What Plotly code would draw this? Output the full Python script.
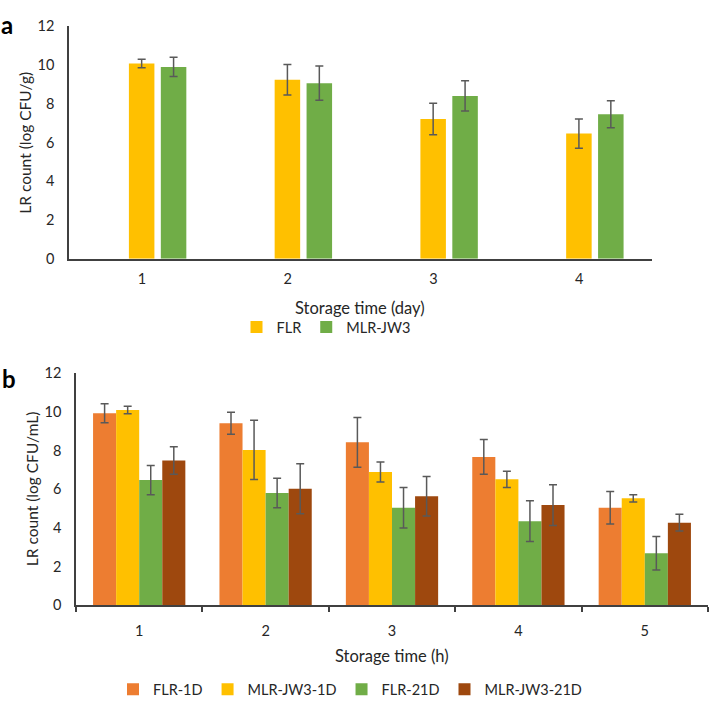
import plotly.graph_objects as go

# ---- data: panel a ----
days = ["1", "2", "3", "4"]
flr_a = [10.07, 9.24, 7.21, 6.46]
flr_a_err = [0.22, 0.79, 0.81, 0.75]
mlr_a = [9.90, 9.06, 8.40, 7.46]
mlr_a_err = [0.50, 0.88, 0.78, 0.70]

# ---- data: panel b ----
hours = ["1", "2", "3", "4", "5"]
flr_1d = [9.92, 9.41, 8.42, 7.67, 5.04]
flr_1d_err = [0.49, 0.57, 1.29, 0.90, 0.84]
mlr_1d = [10.09, 8.03, 6.89, 6.51, 5.53]
mlr_1d_err = [0.19, 1.53, 0.52, 0.42, 0.19]
flr_21d = [6.47, 5.80, 5.04, 4.35, 2.69]
flr_21d_err = [0.75, 0.76, 1.05, 1.05, 0.87]
mlr_21d = [7.48, 6.02, 5.63, 5.18, 4.27]
mlr_21d_err = [0.71, 1.29, 1.02, 1.05, 0.43]

ORANGE = "#ED7D31"
YELLOW = "#FFC000"
GREEN = "#70AD47"
BROWN = "#9E480E"
ERR = "#595959"
TXT = "#262626"
FONT = "Lato"

W = 709
H = 709

def px_x(p):
    return p / W

def px_y(p):
    return 1 - p / H

def err(vals):
    return dict(type="data", array=vals, visible=True, color=ERR, thickness=1.5, width=4)

fig = go.Figure()

# panel a (explicit offsets to mimic Excel layout with empty slots)
fig.add_trace(go.Bar(x=days, y=flr_a, error_y=err(flr_a_err), name="FLR",
                     marker=dict(color=YELLOW, line=dict(width=0)),
                     offset=-0.089, width=0.175, xaxis="x", yaxis="y", legend="legend"))
fig.add_trace(go.Bar(x=days, y=mlr_a, error_y=err(mlr_a_err), name="MLR-JW3",
                     marker=dict(color=GREEN, line=dict(width=0)),
                     offset=0.130, width=0.175, xaxis="x", yaxis="y", legend="legend"))

# panel b
for name, vals, e, col in [("FLR-1D", flr_1d, flr_1d_err, ORANGE),
                           ("MLR-JW3-1D", mlr_1d, mlr_1d_err, YELLOW),
                           ("FLR-21D", flr_21d, flr_21d_err, GREEN),
                           ("MLR-JW3-21D", mlr_21d, mlr_21d_err, BROWN)]:
    fig.add_trace(go.Bar(x=hours, y=vals, error_y=err(e), name=name,
                         marker=dict(color=col, line=dict(width=0)),
                         xaxis="x2", yaxis="y2", legend="legend2"))

axis_font = dict(family=FONT, size=14.5, color=TXT)

fig.update_layout(
    width=W, height=H,
    margin=dict(l=0, r=0, t=0, b=0),
    paper_bgcolor="white", plot_bgcolor="white",
    barmode="group", bargap=0.27, bargroupgap=0,
    font=dict(family=FONT, size=14, color=TXT),
    xaxis=dict(domain=[px_x(69), px_x(652)], anchor="y", type="category",
               showline=True, linecolor="#404040", linewidth=1.5,
               ticks="", showgrid=False, tickfont=axis_font, ticklabelstandoff=6),
    yaxis=dict(domain=[px_y(256), px_y(17.6)], anchor="x", range=[0, 12],
               dtick=2, showline=True, linecolor="#404040", linewidth=1.5,
               ticks="", showgrid=False, zeroline=False, tickfont=axis_font,
               ticklabelstandoff=10),
    xaxis2=dict(domain=[px_x(76), px_x(708)], anchor="y2", type="category",
                showline=True, linecolor="#404040", linewidth=1.5,
                ticks="outside", tickson="boundaries", ticklen=5, tickcolor="#404040",
                tickwidth=1.5, showgrid=False, tickfont=axis_font, ticklabelstandoff=12),
    yaxis2=dict(domain=[px_y(611), px_y(373)], anchor="x2", range=[0, 12],
                dtick=2, showline=True, linecolor="#404040", linewidth=1.5,
                ticks="", showgrid=False, zeroline=False, tickfont=axis_font,
                ticklabelstandoff=10),
    legend=dict(orientation="h", x=px_x(326), xanchor="center", y=px_y(326),
                yanchor="middle", font=dict(family=FONT, size=14.5, color=TXT),
                bgcolor="rgba(0,0,0,0)", itemwidth=30, traceorder="normal"),
    legend2=dict(orientation="h", x=px_x(350), xanchor="center", y=px_y(697),
                 yanchor="middle", font=dict(family=FONT, size=14.5, color=TXT),
                 bgcolor="rgba(0,0,0,0)", itemwidth=30, traceorder="normal"),
    showlegend=True,
)

annos = [
    dict(text="<b>a</b>", x=px_x(7), y=px_y(16), font=dict(family=FONT, size=24, color="black")),
    dict(text="<b>b</b>", x=px_x(9), y=px_y(379), font=dict(family=FONT, size=24, color="black")),
    dict(text="Storage time (day)", x=px_x(360), y=px_y(306), font=dict(family=FONT, size=16.5, color=TXT)),
    dict(text="Storage time (h)", x=px_x(392), y=px_y(663), font=dict(family=FONT, size=16.5, color=TXT)),
    dict(text="LR count (log CFU/g)", x=px_x(25), y=px_y(137), textangle=-90,
         font=dict(family=FONT, size=15.5, color=TXT)),
    dict(text="LR count (log CFU/mL)", x=px_x(32), y=px_y(492), textangle=-90,
         font=dict(family=FONT, size=15.5, color=TXT)),
]
for a in annos:
    fig.add_annotation(xref="paper", yref="paper", showarrow=False,
                       xanchor="center", yanchor="middle", **a)

fig.write_html("out.html")
